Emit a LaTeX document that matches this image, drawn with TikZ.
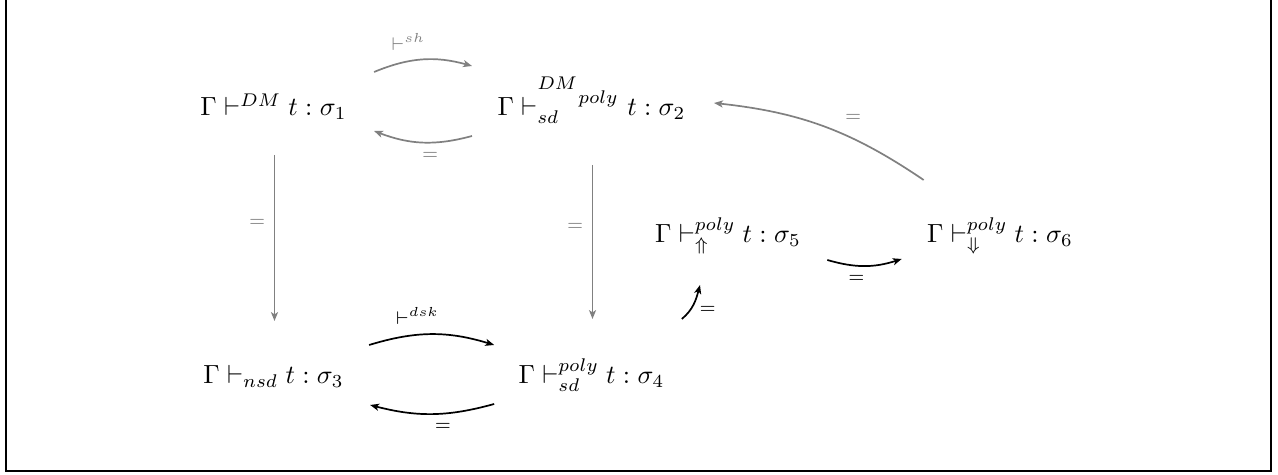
\documentclass[tikz,border=0pt]{standalone}
\usetikzlibrary{positioning, arrows.meta}

\begin{document}
\begin{tikzpicture}[
        x=0.0134cm, y=-0.0134cm,
        % giudizi: testo matematico senza bordo
        term/.style={inner sep=0pt, anchor=base},
        % frecce nere e grigie
        arr/.style={-{Stealth[length=3.4pt, width=2.7pt, inset=0.9pt]}, line width=0.65pt},
        grayarr/.style={arr, draw=gray},
        vertarr/.style={arr, line width=0.45pt, draw=gray},
        % etichette delle frecce
        lbl/.style={font=\scriptsize},
        graylbl/.style={lbl, text=gray}
    ]

    \useasboundingbox (0,0) rectangle (1278,475);

    % --- cornice ---
    \draw[line width=0.75pt] (6,0) -- (6,471) -- (1271,471) -- (1271,0);

    % --- GIUDIZI ---
    \node[term] (dm)   at (273.5,116) {$\Gamma \vdash^{DM} t : \sigma_1$};
    \node[term] (sddm) at (591.5,116) {$\Gamma \vdash_{sd}^{{}^{\scriptstyle DM}{}_{\scriptstyle poly}} t : \sigma_2$};
    \node[term] (nsd)  at (273.5,384) {$\Gamma \vdash_{nsd} t : \sigma_3$};
    \node[term] (sd)   at (591.5,384) {$\Gamma \vdash_{sd}^{poly} t : \sigma_4$};
    \node[term] (up)   at (728,243)   {$\Gamma \vdash_{\Uparrow}^{poly} t : \sigma_5$};
    \node[term] (dn)   at (1000,243)  {$\Gamma \vdash_{\Downarrow}^{poly} t : \sigma_6$};

    % --- riga superiore (grigia) ---
    \draw[grayarr] ([shift={(27,-44)}]dm.base east) to[bend left=19]
        node[graylbl, above, xshift=-1.9mm] {$\vdash^{sh}$} ([shift={(-25,-50)}]sddm.base west);
    \draw[grayarr] ([shift={(-25,20)}]sddm.base west) to[bend left=18]
        node[graylbl, below, xshift=1mm] {$=$} ([shift={(27,15)}]dm.base east);

    % --- frecce verticali ---
    \draw[vertarr] ([shift={(1,39)}]dm.base) -- node[graylbl, left, pos=0.41] {$=$} ([shift={(1,-63)}]nsd.base);
    \draw[vertarr] ([shift={(1,49)}]sddm.base) -- node[graylbl, left, pos=0.40] {$=$} ([shift={(1,-65)}]sd.base);

    % --- riga inferiore (nera) ---
    \draw[arr] ([shift={(25,-39)}]nsd.base east) to[bend left=17]
        node[lbl, above, xshift=-1.9mm] {$\vdash^{dsk}$} ([shift={(-24,-39)}]sd.base west);
    \draw[arr] ([shift={(-24,20)}]sd.base west) to[bend left=15]
        node[lbl, below, xshift=1.45mm] {$=$} ([shift={(26,21)}]nsd.base east);

    % --- verso le regole poly ---
    \draw[arr] ([shift={(17,-65)}]sd.base east) to[out=40, in=255]
        node[lbl, pos=0.3, right] {$=$} ([shift={(-28,42)}]up.base);
    \draw[arr] ([shift={(26,17)}]up.base east) to[bend right=17]
        node[lbl, below, xshift=-1.1mm] {$=$} ([shift={(-25,16)}]dn.base west);
    \draw[grayarr] ([shift={(-3,-63)}]dn.base west) to[bend right=14]
        node[graylbl, pos=0.35, above, yshift=1mm] {$=$} ([shift={(28,-13)}]sddm.base east);

\end{tikzpicture}
\end{document}
